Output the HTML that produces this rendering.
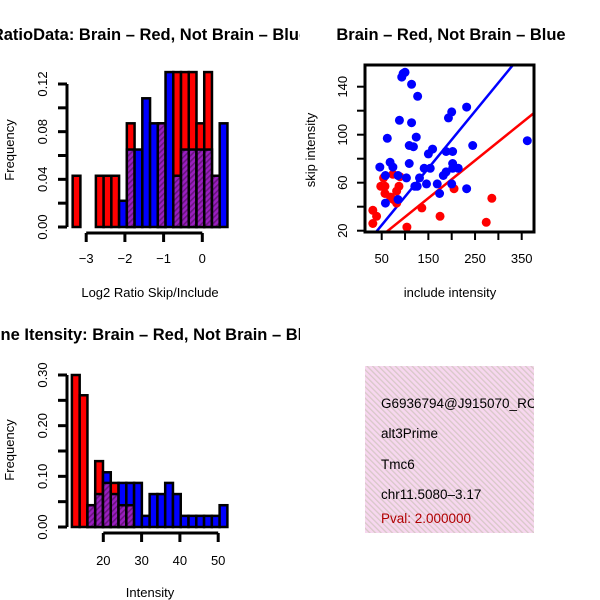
<!DOCTYPE html>
<html><head><meta charset="utf-8"><style>
html,body{margin:0;padding:0;background:#fff;}
svg{display:block;font-family:"Liberation Sans",sans-serif;}
</style></head><body>
<svg id="c" width="600" height="600" viewBox="0 0 600 600">
<defs>
<pattern id="ph" width="4" height="4" patternUnits="userSpaceOnUse" patternTransform="rotate(45)"><rect width="4" height="4" fill="#9a1fc0"/><rect width="1.6" height="4" fill="#6a1480"/></pattern>
<pattern id="pk" width="4" height="4" patternUnits="userSpaceOnUse" patternTransform="rotate(-45)"><rect width="4" height="4" fill="#f7d7ef"/><rect width="1.3" height="4" fill="#d8c8c8"/></pattern>
<clipPath id="cl1"><rect x="0" y="0" width="300" height="300"/></clipPath>
<clipPath id="cl3"><rect x="0" y="300" width="300" height="300"/></clipPath>
<clipPath id="cl2"><rect x="365" y="65" width="169" height="167"/></clipPath>
<clipPath id="cl4"><rect x="365" y="366" width="169" height="167"/></clipPath>
</defs>
<g clip-path="url(#cl1)"><text x="150" y="40" text-anchor="middle" font-weight="bold" font-size="16.5">RatioData: Brain – Red, Not Brain – Blue</text></g>
<text x="451" y="40" text-anchor="middle" font-weight="bold" font-size="16.5">Brain – Red, Not Brain – Blue</text>
<g clip-path="url(#cl3)"><text x="150" y="340" text-anchor="middle" font-weight="bold" font-size="16.5">Gene Itensity: Brain – Red, Not Brain – Blue</text></g>
<g id="h1"></g>
<g id="sc"></g>
<g id="h2"></g>
<g>
<rect x="365" y="366" width="169" height="167" fill="url(#pk)"/>
<g clip-path="url(#cl4)" font-size="13.5">
<text x="381" y="408">G6936794@J915070_RC</text>
<text x="381" y="438">alt3Prime</text>
<text x="381" y="469">Tmc6</text>
<text x="381" y="499">chr11.5080–3.17</text>
<text x="381" y="523" fill="#b00000">Pval: 2.000000</text>
</g>
</g>
</svg>
<script>
// Ratio histogram data
const ratioBinStart = -3.35, ratioBinWidth = 0.2;
const ratioRed  = [0.043,0,0,0.043,0.043,0.043,0,0.087,0,0,0,0.087,0,0.13,0.13,0.13,0.087,0.13,0.043,0];
const ratioBlue = [0,0,0,0,0,0,0.022,0.065,0.065,0.108,0.087,0.087,0.13,0.043,0.065,0.065,0.065,0.065,0.043,0.087];
const ratioXTicks = [-3,-2,-1,0];
const ratioYTicks = [0,0.02,0.04,0.06,0.08,0.1,0.12];
const ratioYLabels = ["0.00","","0.04","","0.08","","0.12"];
// Intensity histogram data
const intBinStart = 11.8, intBinWidth = 2.03;
const intRed  = [0.30,0.26,0.043,0.13,0.087,0.087,0.043,0.043,0,0,0,0,0,0,0,0,0,0,0,0];
const intBlue = [0,0,0.043,0.065,0.108,0.065,0.087,0.087,0.087,0.022,0.065,0.065,0.087,0.065,0.022,0.022,0.022,0.022,0.022,0.043];
const intXTicks = [20,30,40,50];
const intYTicks = [0,0.05,0.1,0.15,0.2,0.25,0.3];
const intYLabels = ["0.00","","0.10","","0.20","","0.30"];
// Scatter data
const blueX = [96,100,93,114,127,88,114,232,200,193,62,124,109,118,159,150,245,188,202,362,46,68,74,109,141,154,188,202,202,214,182,58,85,103,131,146,169,121,200,232,174,85,58,126];
const blueY = [151,152,148,142,132,112,110,123,119,114,97,98,91,90,88,84,91,86,86,95,73,77,73,76,72,72,69,76,72,72,66,66,66,64,64,59,59,57,59,55,51,46,43,57];
const redX = [31,39,31,54,48,57,74,89,87,82,57,69,82,136,175,104,205,286,274,75];
const redY = [37,32,26,64,57,57,67,65,57,53,51,48,43,39,32,23,55,47,27,46];
const blueLine = [[36,18],[331,158]];
const redLine = [[57,18],[376,118]];
const scXTicks = [50,100,150,200,250,300,350];
const scXLabels = ["50","","150","","250","","350"];
const scYTicks = [20,40,60,80,100,120,140];
const scYLabels = ["20","","60","","100","","140"];

const NS="http://www.w3.org/2000/svg";
function mk(p,t,a){const e=document.createElementNS(NS,t);for(const k in a)e.setAttribute(k,a[k]);p.appendChild(e);return e;}

function hist(g,red,blue,start,w,xs,ys,yt,xTicks,yTicks,yLabels,xlab,axisY,tickLabY,xlabY,name){
  for(let i=0;i<red.length;i++){
    const x0=xs(start+i*w),x1=xs(start+(i+1)*w);
    const r=red[i],b=blue[i],mx=Math.max(r,b),mn=Math.min(r,b);
    if(mx>0){
      const bar=mk(g,'rect',{x:x0,y:ys(mx),width:x1-x0,height:ys(0)-ys(mx),fill:r>=b?'#ff0000':'#0000ff',stroke:'#000','stroke-width':2.5});
      
      
    }
    if(mn>0){
      const ov=mk(g,'rect',{x:x0,y:ys(mn),width:x1-x0,height:ys(0)-ys(mn),fill:'url(#ph)',stroke:'#000','stroke-width':2.5});
      
      
    }
  }
  const ax=mk(g,'g',{});
  
  
  mk(ax,'line',{x1:67,x2:67,y1:ys(yTicks[0]),y2:ys(yTicks[yTicks.length-1]),stroke:'#000','stroke-width':3});
  yTicks.forEach((v,i)=>{
    mk(ax,'line',{x1:58,x2:67,y1:ys(v),y2:ys(v),stroke:'#000','stroke-width':3});
    if(yLabels[i]){const t=mk(ax,'text',{x:0,y:0,'font-size':13,'text-anchor':'middle',transform:`translate(47,${ys(v)}) rotate(-90)`});t.textContent=yLabels[i];}
  });
  const bx=mk(g,'g',{});
  
  
  mk(bx,'line',{x1:xs(xTicks[0]),x2:xs(xTicks[xTicks.length-1]),y1:axisY,y2:axisY,stroke:'#000','stroke-width':3});
  xTicks.forEach(v=>{
    mk(bx,'line',{x1:xs(v),x2:xs(v),y1:axisY,y2:axisY+9,stroke:'#000','stroke-width':3});
    const t=mk(bx,'text',{x:xs(v),y:tickLabY,'font-size':13,'text-anchor':'middle'});t.textContent=(v<0?'−':'')+Math.abs(v);
  });
  const yl2=mk(g,'text',{x:0,y:0,'font-size':13,'text-anchor':'middle',transform:`translate(14,${yt}) rotate(-90)`});yl2.textContent='Frequency';
  
  
  const xl=mk(g,'text',{x:150,y:xlabY,'font-size':13,'text-anchor':'middle'});xl.textContent=xlab;
  
  
}
{
  const xs=v=>202.3+v*38.7, ys=v=>227-v*(143/0.12);
  hist(document.getElementById('h1'),ratioRed,ratioBlue,ratioBinStart,ratioBinWidth,xs,ys,150,ratioXTicks,ratioYTicks,ratioYLabels,'Log2 Ratio Skip/Include',233,263,297,'ratio');
}
{
  const xs=v=>103.3+(v-20)*3.83, ys=v=>527-v*(152/0.3);
  hist(document.getElementById('h2'),intRed,intBlue,intBinStart,intBinWidth,xs,ys,450,intXTicks,intYTicks,intYLabels,'Intensity',533,565,597,'intensity');
}
{
  const g=document.getElementById('sc');
  const xs=v=>381.7+(v-50)*0.4667, ys=v=>230.7-(v-20)*1.2;
  const pts=mk(g,'g',{'clip-path':'url(#cl2)'});
  const rl=mk(pts,'line',{x1:xs(redLine[0][0]),y1:ys(redLine[0][1]),x2:xs(redLine[1][0]),y2:ys(redLine[1][1]),stroke:'#ff0000','stroke-width':2.5});
  
  
  const bl=mk(pts,'line',{x1:xs(blueLine[0][0]),y1:ys(blueLine[0][1]),x2:xs(blueLine[1][0]),y2:ys(blueLine[1][1]),stroke:'#0000ff','stroke-width':2.5});
  
  
  redX.forEach((v,i)=>{const c=mk(pts,'circle',{cx:xs(v),cy:ys(redY[i]),r:4.5,fill:'#ff0000'});
    
    });
  blueX.forEach((v,i)=>{const c=mk(pts,'circle',{cx:xs(v),cy:ys(blueY[i]),r:4.5,fill:'#0000ff'});
    
    });
  const fr=mk(g,'rect',{x:365,y:65,width:169,height:167,fill:'none',stroke:'#000','stroke-width':3});
  
  
  scXTicks.forEach((v,i)=>{mk(g,'line',{x1:xs(v),x2:xs(v),y1:232,y2:240,stroke:'#000','stroke-width':2});
    if(scXLabels[i]){const t=mk(g,'text',{x:xs(v),y:263,'font-size':13,'text-anchor':'middle'});t.textContent=scXLabels[i];}});
  scYTicks.forEach((v,i)=>{mk(g,'line',{x1:357,x2:365,y1:ys(v),y2:ys(v),stroke:'#000','stroke-width':2});
    if(scYLabels[i]){const t=mk(g,'text',{x:0,y:0,'font-size':13,'text-anchor':'middle',transform:`translate(347,${ys(v)}) rotate(-90)`});t.textContent=scYLabels[i];}});
  const xl=mk(g,'text',{x:450,y:297,'font-size':13,'text-anchor':'middle'});xl.textContent='include intensity';
  
  
  const yl=mk(g,'text',{x:0,y:0,'font-size':13,'text-anchor':'middle',transform:'translate(315,150) rotate(-90)'});yl.textContent='skip intensity';
  
  
}
</script>
</body></html>
